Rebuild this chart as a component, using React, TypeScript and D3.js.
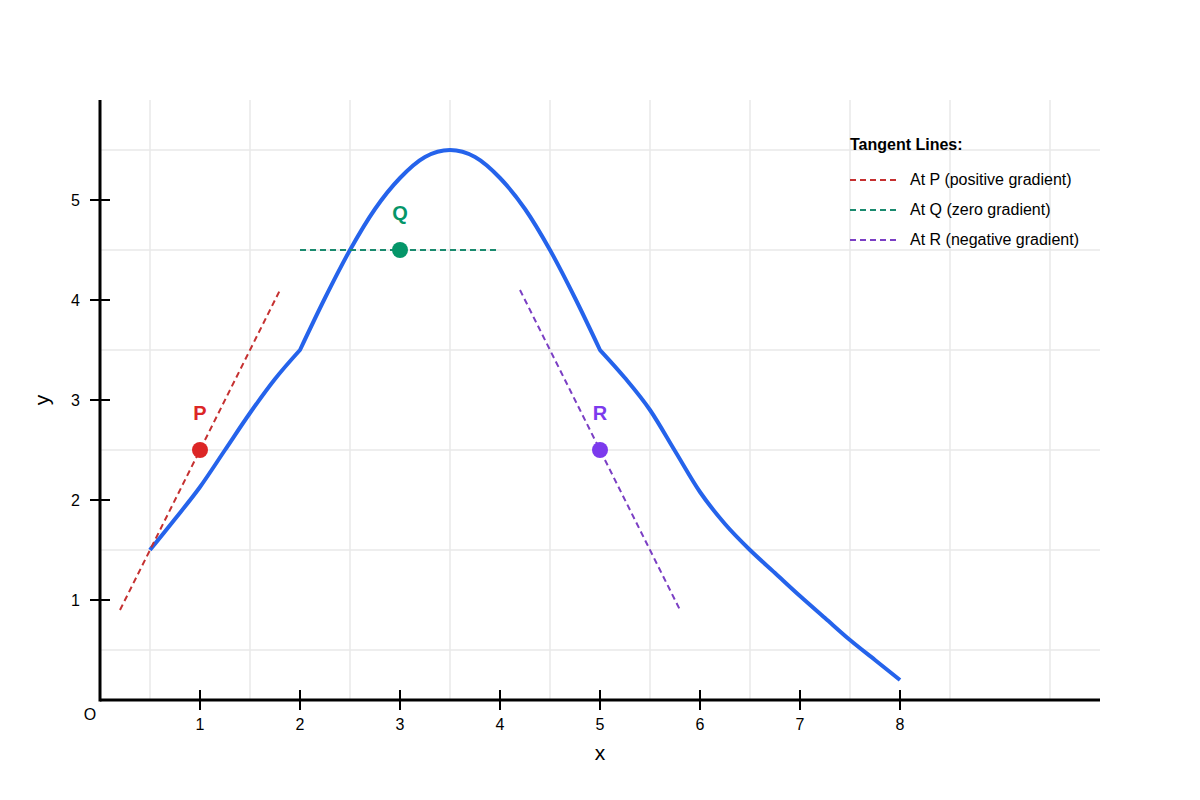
import React, { useEffect, useRef } from 'react';
import * as d3 from 'd3';

// curve y = f(x); three pieces joined at x = 2 and x = 5
const leftX = [0.5, 0.75, 1, 1.25, 1.5, 1.75, 2];
const leftY = [1.5, 1.81, 2.13, 2.5, 2.87, 3.21, 3.5];
const midX = [2, 2.25, 2.5, 2.75, 3, 3.25, 3.5, 3.75, 4, 4.25, 4.5, 4.75, 5];
const midY = [3.5, 4.02, 4.5, 4.91, 5.22, 5.43, 5.5, 5.43, 5.22, 4.91, 4.5, 4.02, 3.5];
const rightX = [5, 5.25, 5.5, 5.75, 6, 6.25, 6.5, 6.75, 7, 7.25, 7.5, 7.75, 8];
const rightY = [3.5, 3.22, 2.9, 2.49, 2.08, 1.76, 1.5, 1.27, 1.04, 0.82, 0.6, 0.4, 0.2];

const xTicks = [1, 2, 3, 4, 5, 6, 7, 8];
const yTicks = [1, 2, 3, 4, 5];
const gridX = [0.5, 1.5, 2.5, 3.5, 4.5, 5.5, 6.5, 7.5, 8.5, 9.5];
const gridY = [0.5, 1.5, 2.5, 3.5, 4.5, 5.5];

const pointNames = ['P', 'Q', 'R'];
const pointX = [1, 3, 5];
const pointY = [2.5, 4.5, 2.5];
const pointSlope = [2, 0, -2];
const pointHalfSpan = [0.8, 1, 0.8];
const pointColors = ['#dc2626', '#059669', '#7c3aed'];
const tangentColors = ['#c53030', '#1a8a6e', '#7b3fc4'];
const legendLabels = ['At P (positive gradient)', 'At Q (zero gradient)', 'At R (negative gradient)'];

const W = 1200;
const H = 800;

export default function App() {
  const svgRef = useRef<SVGSVGElement | null>(null);

  useEffect(() => {
    document.body.style.margin = '0';
    if (!svgRef.current) return;
    const svg = d3.select(svgRef.current);
    svg.selectAll('*').remove();

    const x = d3.scaleLinear().domain([0, 10]).range([100, 1100]);
    const y = d3.scaleLinear().domain([0, 6]).range([700, 100]);
    const font = 'Liberation Sans, Arial, sans-serif';

    // grid
    svg.append('g')
      .selectAll('line')
      .data(gridX)
      .join('line')
      .attr('x1', (d) => x(d))
      .attr('x2', (d) => x(d))
      .attr('y1', y(6))
      .attr('y2', y(0))
      .attr('stroke', '#e8e8e8')
      .attr('stroke-width', 1.5);
    svg.append('g')
      .selectAll('line')
      .data(gridY)
      .join('line')
      .attr('x1', x(0))
      .attr('x2', x(10))
      .attr('y1', (d) => y(d))
      .attr('y2', (d) => y(d))
      .attr('stroke', '#e8e8e8')
      .attr('stroke-width', 1.5);

    // axes
    svg.append('line')
      .attr('x1', x(0)).attr('x2', x(10))
      .attr('y1', y(0)).attr('y2', y(0))
      .attr('stroke', '#000').attr('stroke-width', 3);
    svg.append('line')
      .attr('x1', x(0)).attr('x2', x(0))
      .attr('y1', y(0) + 1.5).attr('y2', y(6))
      .attr('stroke', '#000').attr('stroke-width', 3);

    const xt = svg.append('g').selectAll('g').data(xTicks).join('g');
    xt.append('line')
      .attr('x1', (d) => x(d)).attr('x2', (d) => x(d))
      .attr('y1', y(0) - 10).attr('y2', y(0) + 10)
      .attr('stroke', '#000').attr('stroke-width', 2);
    xt.append('text')
      .attr('x', (d) => x(d)).attr('y', y(0) + 30)
      .attr('text-anchor', 'middle')
      .attr('font-family', font).attr('font-size', 16)
      .text((d) => d);

    const yt = svg.append('g').selectAll('g').data(yTicks).join('g');
    yt.append('line')
      .attr('x1', x(0) - 10).attr('x2', x(0) + 10)
      .attr('y1', (d) => y(d)).attr('y2', (d) => y(d))
      .attr('stroke', '#000').attr('stroke-width', 2);
    yt.append('text')
      .attr('x', x(0) - 20).attr('y', (d) => y(d) + 6)
      .attr('text-anchor', 'end')
      .attr('font-family', font).attr('font-size', 16)
      .text((d) => d);

    svg.append('text')
      .attr('x', 90).attr('y', 720)
      .attr('text-anchor', 'middle')
      .attr('font-family', font).attr('font-size', 16)
      .text('O');
    svg.append('text')
      .attr('x', x(5)).attr('y', 760)
      .attr('text-anchor', 'middle')
      .attr('font-family', font).attr('font-size', 21)
      .text('x');
    svg.append('text')
      .attr('transform', `translate(49, ${y(3)}) rotate(-90)`)
      .attr('text-anchor', 'middle')
      .attr('font-family', font).attr('font-size', 21)
      .text('y');

    // curve, drawn piece by piece so the joins stay sharp
    const line = d3.line<[number, number]>()
      .x((d) => x(d[0]))
      .y((d) => y(d[1]))
      .curve(d3.curveMonotoneX);
    const pieces = [
      [leftX, leftY],
      [midX, midY],
      [rightX, rightY],
    ];
    const d = pieces
      .map(([xs, ys], i) => {
        const s = line(xs.map((v, k) => [v, ys[k]] as [number, number])) || '';
        return i === 0 ? s : s.replace(/^M[^LC]*/, 'L' + x(xs[0]) + ',' + y(ys[0]));
      })
      .join('');
    svg.append('path')
      .attr('fill', 'none')
      .attr('stroke', '#2563eb')
      .attr('stroke-width', 4)
      .attr('stroke-linejoin', 'round')
      .attr('d', d);

    // tangents + points
    pointNames.forEach((name, i) => {
      const x0 = pointX[i] - pointHalfSpan[i];
      const x1 = pointX[i] + pointHalfSpan[i];
      svg.append('line')
        .attr('x1', x(x0)).attr('y1', y(pointY[i] + pointSlope[i] * (x0 - pointX[i])))
        .attr('x2', x(x1)).attr('y2', y(pointY[i] + pointSlope[i] * (x1 - pointX[i])))
        .attr('stroke', tangentColors[i])
        .attr('stroke-width', 2)
        .attr('stroke-dasharray', '6,4');
      svg.append('circle')
        .attr('cx', x(pointX[i])).attr('cy', y(pointY[i]))
        .attr('r', 8)
        .attr('fill', pointColors[i]);
      svg.append('text')
        .attr('x', x(pointX[i])).attr('y', y(pointY[i]) - 30)
        .attr('text-anchor', 'middle')
        .attr('font-family', font).attr('font-size', 20).attr('font-weight', 'bold')
        .attr('fill', pointColors[i])
        .text(name);
    });

    // legend
    const lg = svg.append('g').attr('transform', 'translate(850, 150)');
    lg.append('text')
      .attr('x', 0).attr('y', 0)
      .attr('font-family', font).attr('font-size', 16).attr('font-weight', 'bold')
      .text('Tangent Lines:');
    legendLabels.forEach((label, i) => {
      const yy = 30 + i * 30;
      lg.append('line')
        .attr('x1', 0).attr('x2', 50)
        .attr('y1', yy).attr('y2', yy)
        .attr('stroke', tangentColors[i])
        .attr('stroke-width', 2)
        .attr('stroke-dasharray', '6,4');
      lg.append('text')
        .attr('x', 60).attr('y', yy + 5)
        .attr('font-family', font).attr('font-size', 16)
        .text(label);
    });
  }, []);

  return <svg ref={svgRef} width={W} height={H} style={{ display: 'block', background: '#fff' }}></svg>;
}
